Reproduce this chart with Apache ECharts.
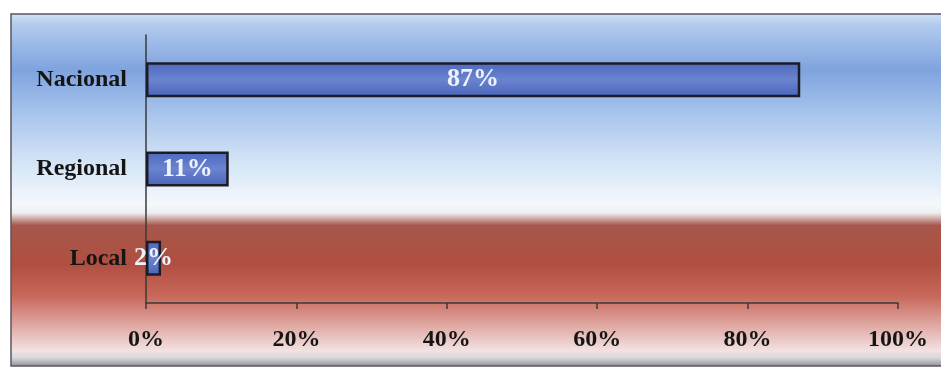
<!DOCTYPE html>
<html>
<head>
<meta charset="utf-8">
<script src="https://cdn.jsdelivr.net/npm/echarts@6/dist/echarts.min.js"></script>
<style>
  html, body { margin: 0; padding: 0; background: #ffffff; }
  #chart { width: 941px; height: 372px; }
</style>
</head>
<body>
<div id="chart"></div>
<script>
// Alcance de los medios: porcentaje por ámbito
const categories = ['Nacional', 'Regional', 'Local'];
const values = [87, 11, 2];
const axisMin = 0;
const axisMax = 100;
const axisStep = 20;

const serif = '"Liberation Serif", "Times New Roman", serif';

const chart = echarts.init(document.getElementById('chart'));

chart.setOption({
  animation: false,
  graphic: [
    {
      // panel background: blue sky fading to white, then a red band
      type: 'rect',
      z: -10,
      shape: { x: 11, y: 14, width: 940, height: 352 },
      style: {
        fill: new echarts.graphic.LinearGradient(0, 0, 0, 1, [
          { offset: 0.00, color: '#d3e3f5' },
          { offset: 0.03, color: '#b3ccee' },
          { offset: 0.16, color: '#7fa3de' },
          { offset: 0.28, color: '#a6c3eb' },
          { offset: 0.42, color: '#d3e4f6' },
          { offset: 0.54, color: '#f4f8fc' },
          { offset: 0.565, color: '#eeeef0' },
          { offset: 0.60, color: '#a6574b' },
          { offset: 0.71, color: '#b04f40' },
          { offset: 0.80, color: '#c7685b' },
          { offset: 0.88, color: '#dfa6a0' },
          { offset: 0.955, color: '#f2e2e2' },
          { offset: 0.975, color: '#d6d8de' },
          { offset: 1.00, color: '#8c8c90' }
        ]),
        stroke: '#5a5560',
        lineWidth: 1.5
      }
    }
  ],
  grid: { left: 146, right: 43, top: 35, bottom: 69 },
  xAxis: {
    type: 'value',
    min: axisMin,
    max: axisMax,
    interval: axisStep,
    axisLine: { show: true, lineStyle: { color: '#3a3a3a', width: 1.5 } },
    axisTick: { show: true, length: 6, lineStyle: { color: '#3a3a3a', width: 1.5 } },
    splitLine: { show: false },
    axisLabel: {
      formatter: '{value}%',
      margin: 25,
      color: '#151515',
      fontFamily: serif,
      fontWeight: 'bold',
      fontSize: 24
    }
  },
  yAxis: {
    type: 'category',
    inverse: true,
    data: categories,
    axisLine: { show: true, lineStyle: { color: '#3a3a3a', width: 1.5 } },
    axisTick: { show: false },
    axisLabel: {
      margin: 19,
      color: '#151515',
      fontFamily: serif,
      fontWeight: 'bold',
      fontSize: 24
    }
  },
  series: [
    {
      type: 'bar',
      data: values,
      barWidth: 35,
      itemStyle: {
        color: new echarts.graphic.LinearGradient(0, 0, 0, 1, [
          { offset: 0, color: '#4d68bf' },
          { offset: 0.5, color: '#6a84cf' },
          { offset: 1, color: '#4a63b9' }
        ]),
        borderColor: '#1c1c24',
        borderWidth: 2.5
      },
      label: {
        show: true,
        position: 'inside',
        formatter: '{c}%',
        color: '#eef2fb',
        fontFamily: serif,
        fontWeight: 'bold',
        fontSize: 26
      }
    }
  ]
});
</script>
</body>
</html>
